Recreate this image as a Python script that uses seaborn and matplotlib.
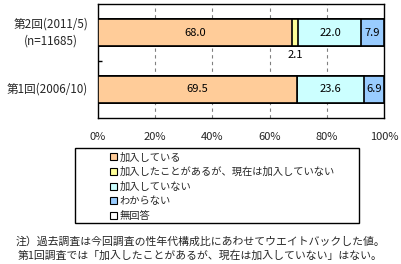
import matplotlib
matplotlib.use("Agg")
import matplotlib.pyplot as plt
from matplotlib.patches import Patch, Rectangle
from matplotlib.transforms import blended_transform_factory
import seaborn as sns
import pandas as pd
import numpy as np

sns.set_theme(style="white")
plt.rcParams['font.family'] = ['Noto Sans CJK JP', 'DejaVu Sans']

categories = ["第2回(2011/5)\n(n=11685)", "第1回(2006/10)"]
series_names = ["加入している", "加入したことがあるが、現在は加入していない",
                "加入していない", "わからない", "無回答"]
joined = [68.0, 69.5]
joined_before = [2.1, 0.0]
not_joined = [22.0, 23.6]
unknown = [7.9, 6.9]
no_answer = [0.0, 0.0]
colors = ["#FFCC99", "#FFFF99", "#CCFFFF", "#99CCFF", "#FFFFFF"]
xticks = [0, 20, 40, 60, 80, 100]
notes = ["注）過去調査は今回調査の性年代構成比にあわせてウエイトバックした値。",
         "第1回調査では「加入したことがあるが、現在は加入していない」はない。"]

series = [joined, joined_before, not_joined, unknown, no_answer]
cum = np.cumsum(np.array(series), axis=0)

fig = plt.figure(figsize=(4.01, 2.64), dpi=100)
ax = fig.add_axes([98/401, 1-118/264, (384-98)/401, (118-4)/264])

# draw cumulative bars from the full total down so each segment shows
for i in range(len(series) - 1, -1, -1):
    df = pd.DataFrame({"cat": categories, "val": cum[i]})
    sns.barplot(data=df, y="cat", x="val", orient="h", color=colors[i],
                saturation=1, width=0.47, edgecolor="black", linewidth=1.2,
                ax=ax, zorder=3)

# value labels
for j in range(len(categories)):
    for i, vals in enumerate(series):
        v = vals[j]
        if v <= 0:
            continue
        center = cum[i][j] - v / 2
        if v < 4:
            ax.text(center, j + 0.40, f"{v:.1f}", ha="center", va="center",
                    fontsize=8.0, color="black", zorder=5)
        else:
            ax.text(center, j, f"{v:.1f}", ha="center", va="center",
                    fontsize=8.0, color="black", zorder=5)

ax.set_xlim(0, 100)
ax.set_ylim(1.5, -0.5)
ax.set_xticks(xticks)
ax.set_xticklabels([f"{t}%" for t in xticks], fontsize=8.0)
ax.tick_params(axis="x", length=0, pad=10)
ax.set_yticklabels([])
ax.tick_params(axis="y", which="major", length=0)
trans = blended_transform_factory(ax.transAxes, ax.transData)
for j, c in enumerate(categories):
    ax.text(-10/286, j, c, transform=trans, ha="right", va="center",
            multialignment="center", fontsize=8.4, linespacing=1.35)
ax.set_yticks([0.5], minor=True)
ax.tick_params(axis="y", which="minor", direction="in", length=3, width=1, color="black", left=True)
ax.set_xlabel("")
ax.set_ylabel("")
for x in xticks[1:-1]:
    ax.axvline(x, color="#808080", linestyle=(0, (3, 3)), linewidth=0.8, zorder=1)
for s in ax.spines.values():
    s.set_color("black")
    s.set_linewidth(1.0)
    s.set_visible(True)

# legend box
box = Rectangle((75/401, 1-223/264), (359-75)/401, (223-148)/264,
                transform=fig.transFigure, fill=False, edgecolor="black", linewidth=1.0)
fig.add_artist(box)
handles = [Patch(facecolor=c, edgecolor="black", linewidth=0.8) for c in colors]
leg = fig.legend(handles, series_names, loc="upper left",
                 bbox_to_anchor=(103/401, 1-145/264), frameon=False,
                 fontsize=7.4, handlelength=0.7, handleheight=0.7,
                 handletextpad=0.2, labelspacing=0.44, borderpad=0.2)

for k, t in enumerate(notes):
    fig.text(200/401, 1-(242 + 13*k)/264, t, ha="center", va="center", fontsize=7.8)

fig.savefig("out.png", dpi=100)
